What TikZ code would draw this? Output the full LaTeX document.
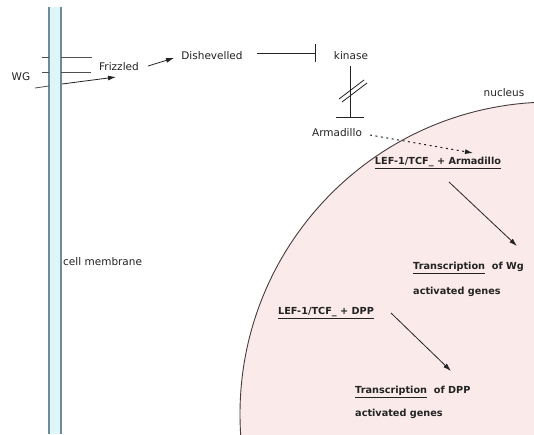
\documentclass[tikz,border=0pt]{standalone}
\usepackage{fontspec}
\setmainfont{DejaVu Sans}
\usetikzlibrary{arrows.meta}
\definecolor{memfill}{RGB}{222,246,249}
\definecolor{memline}{RGB}{110,140,150}
\definecolor{nucfill}{RGB}{250,234,234}
\definecolor{nucline}{RGB}{70,60,60}
\definecolor{ink}{RGB}{35,35,35}
\tikzset{
  lbl/.style={font=\fontsize{10.5}{12}\selectfont, text=ink, inner sep=1pt},
  nlbl/.style={font=\bfseries\fontsize{9.7}{12}\selectfont, text=ink, inner sep=1pt},
  conn/.style={draw=ink, line width=0.8pt},
  arr/.style={conn, -{Latex[length=8pt,width=5pt]}},
  inhib/.style={conn, -{Bar[width=18pt]}},
  rec/.style={draw=ink!80, line width=0.8pt}
}
\begin{document}
\begin{tikzpicture}[x=1pt,y=-1pt]
\useasboundingbox (0,0) rectangle (534,434);
\fill[white] (0,0) rectangle (534,434);
% nucleus
\begin{scope}
\clip (0,0) rectangle (534,434);
\fill[nucfill] (552,414) circle (312);
\draw[nucline, line width=0.9pt] (552,414) circle (312);
\end{scope}
% membrane
\fill[memfill] (49,7) rectangle (61,434);
\draw[memline, line width=1.2pt] (49,7) -- (49,434);
\draw[memline, line width=1.2pt] (61,7) -- (61,434);
% receptor lines
\coordinate (r1a) at (42,57); \coordinate (r1b) at (49,57);
\coordinate (r1c) at (61,57); \coordinate (r1d) at (92,57);
\coordinate (r2a) at (42,72); \coordinate (r2b) at (49,72);
\coordinate (r2c) at (61,72); \coordinate (r2d) at (91,72);
\coordinate (r3a) at (35,88); \coordinate (r3b) at (49,86);
\coordinate (r3c) at (62,84); \coordinate (r3d) at (116,77);
\draw[rec] (r1a) -- (r1b); \draw[rec] (r1c) -- (r1d);
\draw[rec] (r2a) -- (r2b); \draw[rec] (r2c) -- (r2d);
\draw[rec] (r3a) -- (r3b);
\draw[arr] (r3c) -- (r3d);
% labels
\node[lbl] (wg) at (21,77) {WG};
\node[lbl] (friz) at (119,67) {Frizzled};
\node[lbl] (dish) at (212,56) {Dishevelled};
\node[lbl] (kin) at (351,56) {kinase};
\node[lbl] (arm) at (337,133) {Armadillo};
\node[lbl] (nuc) at (504,93) {nucleus};
\node[lbl, anchor=west] (mem) at (62,262) {cell membrane};
\node[nlbl] (lefarm) at (438,163) {\underline{LEF-1/TCF\_\ + Armadillo}};
\node[nlbl, anchor=west] (trwg) at (412,268) {\underline{Transcription}\ \ of Wg};
\node[nlbl, anchor=west] (acwg) at (412,292) {activated genes};
\node[nlbl] (lefdpp) at (326,313) {\underline{LEF-1/TCF\_\ + DPP}};
\node[nlbl, anchor=west] (trdpp) at (354,392) {\underline{Transcription}\ \ of DPP};
\node[nlbl, anchor=west] (acdpp) at (354,414) {activated genes};
% connector end points
\coordinate (fzs) at (148,66); \coordinate (dse) at (174,58);
\coordinate (dss) at (257,53); \coordinate (kne) at (316,53);
\coordinate (kns) at (350,66); \coordinate (kb) at (350,117);
\coordinate (kbl) at (336,117); \coordinate (kbr) at (364,117);
\coordinate (ams) at (370,135); \coordinate (lae) at (473,153);
\coordinate (las) at (449,182); \coordinate (twe) at (517,246);
\coordinate (lds) at (391,313); \coordinate (tde) at (451,371);
% connectors
\draw[arr] (fzs) -- (dse);
\draw[inhib] (dss) -- (kne);
\draw[conn] (kns) -- (kb);
\draw[conn] (kbl) -- (kbr);
\draw[conn] (339,99) -- (364,80);
\draw[conn] (342,102) -- (367,83);
\draw[conn, line width=1pt, dash pattern=on 2pt off 3.5pt, -{Latex[length=8pt,width=5pt]}] (ams) -- (lae);
\draw[arr] (las) -- (twe);
\draw[arr] (lds) -- (tde);
\end{tikzpicture}
\end{document}
